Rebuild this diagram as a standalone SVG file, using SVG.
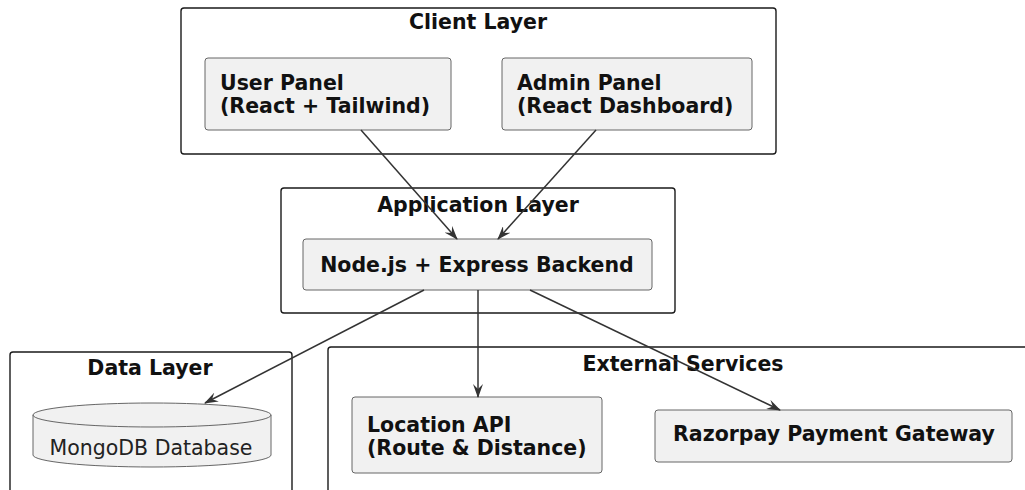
<svg xmlns="http://www.w3.org/2000/svg" width="1025" height="490" viewBox="0 0 1025 490">
<style>
.frame{fill:none;stroke:#1a1a1a;stroke-width:1.4}
.node{fill:#f1f1f1;stroke:#666;stroke-width:1}
.t{font-family:"DejaVu Sans",sans-serif;font-weight:bold;font-size:20.5px;fill:#111}
.n{font-family:"DejaVu Sans",sans-serif;font-size:20.5px;fill:#222}
.c{stroke:#333;stroke-width:1.5;fill:none;marker-end:url(#ah)}
</style>
<defs>
<marker id="ah" viewBox="0 0 14 10" refX="13" refY="5" markerWidth="14" markerHeight="10" markerUnits="userSpaceOnUse" orient="auto">
<path d="M0,0 L14,5 L0,10 L5,5 z" fill="#333"/>
</marker>
</defs>
<rect width="1025" height="490" fill="#fff"/>
<g id="client-layer">
<rect class="frame" x="181" y="8" width="595" height="146" rx="3"/>
<text class="t" x="478" y="29" text-anchor="middle">Client Layer</text>
</g>
<g id="user-panel">
<rect class="node" x="205" y="58" width="246" height="72" rx="3"/>
<text class="t" x="220" y="90">User Panel</text>
<text class="t" x="220" y="113">(React + Tailwind)</text>
</g>
<g id="admin-panel">
<rect class="node" x="502" y="58" width="250" height="72" rx="3"/>
<text class="t" x="517" y="90">Admin Panel</text>
<text class="t" x="517" y="113">(React Dashboard)</text>
</g>
<g id="application-layer">
<rect class="frame" x="281" y="188" width="394" height="125" rx="3"/>
<text class="t" x="478" y="212" text-anchor="middle">Application Layer</text>
</g>
<g id="backend">
<rect class="node" x="303" y="239" width="349" height="51" rx="3"/>
<text class="t" x="477" y="272" text-anchor="middle">Node.js + Express Backend</text>
</g>
<g id="data-layer">
<rect class="frame" x="10" y="352" width="282" height="145" rx="3"/>
<text class="t" x="150" y="375" text-anchor="middle">Data Layer</text>
</g>
<g id="mongodb">
<path class="node" d="M33,415 L33,455 A119,12 0 0 0 271,455 L271,415 A119,12 0 0 0 33,415 Z"/>
<path class="node" style="fill:none" d="M33,415 A119,12 0 0 0 271,415"/>
<text class="n" x="151" y="455" text-anchor="middle">MongoDB Database</text>
</g>
<g id="external-services">
<rect class="frame" x="328" y="347" width="710" height="150" rx="3"/>
<text class="t" x="683" y="371" text-anchor="middle">External Services</text>
</g>
<g id="location-api">
<rect class="node" x="352" y="397" width="250" height="76" rx="3"/>
<text class="t" x="367" y="432">Location API</text>
<text class="t" x="367" y="455">(Route &amp; Distance)</text>
</g>
<g id="razorpay">
<rect class="node" x="655" y="410" width="357" height="52" rx="3"/>
<text class="t" x="834" y="441" text-anchor="middle">Razorpay Payment Gateway</text>
</g>
<g id="connectors">
<line class="c" x1="361" y1="130" x2="457" y2="239"/>
<line class="c" x1="596" y1="130" x2="498" y2="239"/>
<line class="c" x1="424" y1="290" x2="205" y2="403"/>
<line class="c" x1="478" y1="290" x2="478" y2="397"/>
<line class="c" x1="530" y1="290" x2="780" y2="410"/>
</g>
</svg>
